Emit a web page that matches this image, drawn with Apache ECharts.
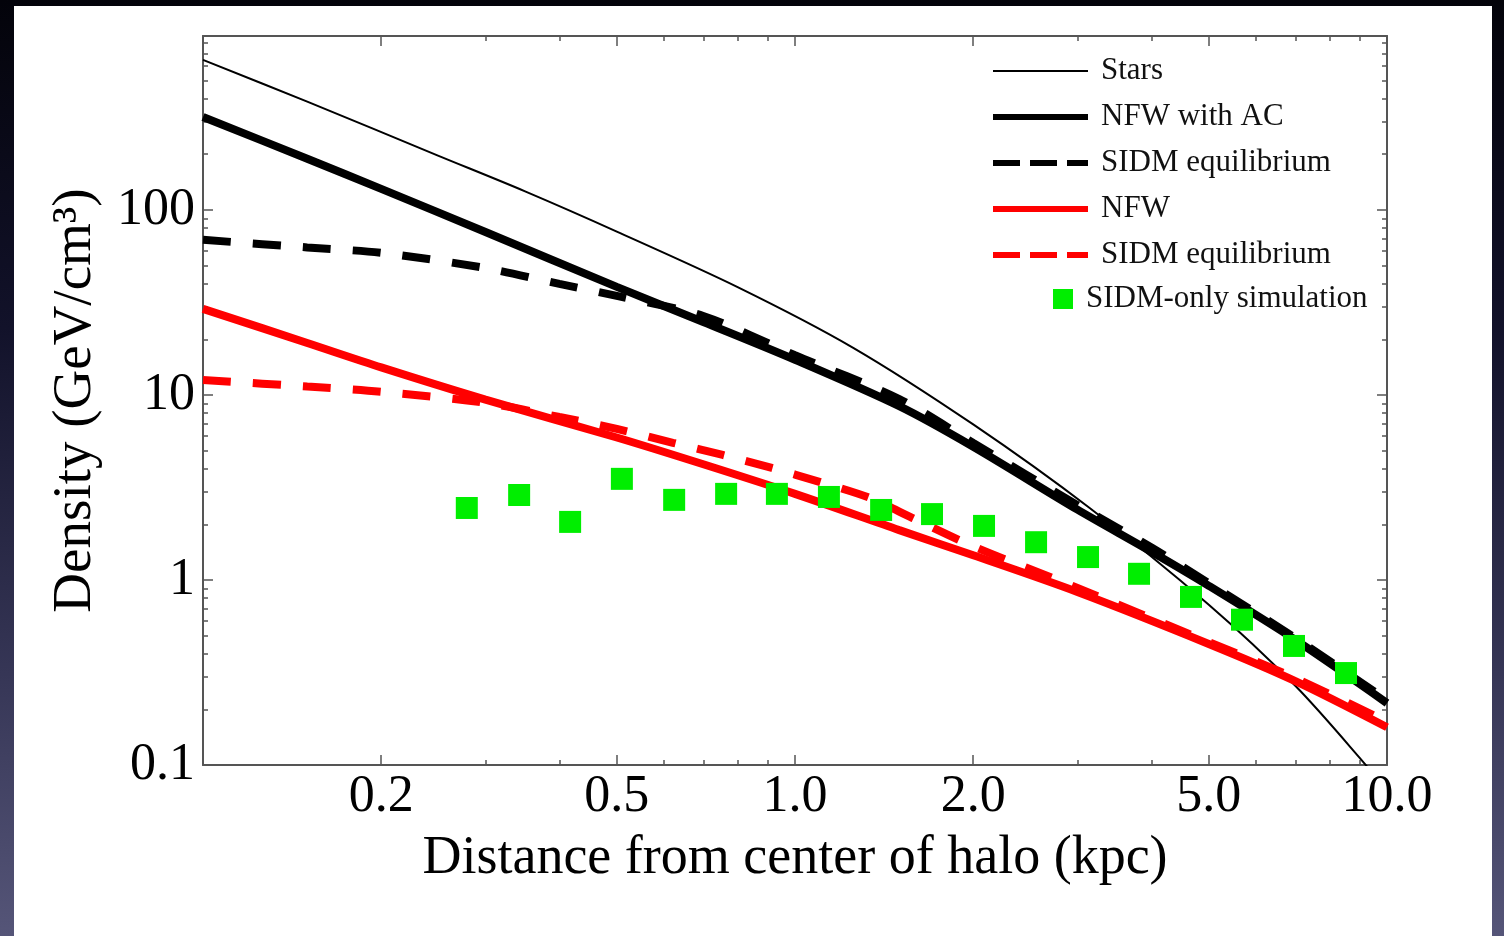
<!DOCTYPE html>
<html>
<head>
<meta charset="utf-8">
<script src="https://cdn.jsdelivr.net/npm/echarts@6/dist/echarts.min.js"></script>
<style>
html,body{margin:0;padding:0;width:1504px;height:936px;overflow:hidden;
  background:linear-gradient(to bottom,#03030a 0%,#12122a 35%,#363656 72%,#555578 100%);}
#chart{position:absolute;left:14px;top:6px;width:1478px;height:930px;background:#ffffff;}
</style>
</head>
<body>
<div id="chart"></div>
<script>
// ---- data (r in kpc, density in GeV/cm^3) ----
const starsR   = [0.1,0.15,0.25,0.35,0.5,0.8,1.25,2,3.15,5,7,9,10];
const starsRho = [647,385,196,126,76.4,38.3,18.1,6.93,2.44,0.735,0.268,0.109,0.072];

const nfwAcR   = [0.1,0.15,0.2,0.3,0.5,0.7,1,1.5,2,3,4,5,7,10];
const nfwAcRho = [318,189,130,76,38.4,24.8,15.5,8.7,5.25,2.40,1.42,0.93,0.474,0.216];

const sidmAcR   = [0.1,0.15,0.2,0.3,0.4,0.5,0.7,1,1.5,2,3,4,5,7,10];
const sidmAcRho = [68.9,62.7,58.6,48.5,39.8,34.3,26.7,16.4,9.5,5.5,2.54,1.50,0.96,0.485,0.224];

const nfwR   = [0.1,0.15,0.2,0.3,0.5,0.7,1,1.5,2,3,5,7,10];
const nfwRho = [29.2,19.1,14.1,9.44,5.89,4.22,2.92,1.86,1.36,0.861,0.451,0.284,0.160];

const sidmR   = [0.1,0.15,0.2,0.3,0.4,0.5,0.622,0.755,0.914,1.10,1.34,1.58,2,3,5,7,10];
const sidmRho = [12.05,11.1,10.4,9.06,7.6,6.55,5.51,4.74,4.03,3.39,2.77,2.16,1.52,0.906,0.462,0.295,0.171];

const simR   = [0.279,0.342,0.417,0.510,0.625,0.765,0.932,1.141,1.398,1.704,2.086,2.554,3.126,3.812,4.666,5.690,6.965,8.526];
const simRho = [2.45,2.88,2.06,3.52,2.71,2.92,2.92,2.81,2.39,2.27,1.96,1.60,1.33,1.08,0.81,0.61,0.44,0.314];

// ---- ticks ----
const xMajor = [0.2,0.5,1,2,5,10];
const xMajorLabels = ['0.2','0.5','1.0','2.0','5.0','10.0'];
const xMinor = [0.3,0.4,0.6,0.7,0.8,0.9,3,4,6,7,8,9];
const yMajor = [0.1,1,10,100];
const yMajorLabels = ['0.1','1','10','100'];
const yMinor = [0.2,0.3,0.4,0.5,0.6,0.7,0.8,0.9,2,3,4,5,6,7,8,9,20,30,40,50,60,70,80,90,200,300,400,500,600,700,800];

const seriesNames = ['Stars','NFW with AC','SIDM equilibrium (AC)','NFW','SIDM equilibrium','SIDM-only simulation'];
const legendLabels = ['Stars','NFW with AC','SIDM equilibrium','NFW','SIDM equilibrium','SIDM-only simulation'];

// ---- helpers ----
const L = Math.log10;
const pts = (rs, vs) => rs.map((r, i) => [L(r), L(vs[i])]);
const FONT = 'Liberation Serif';
const AX = '#555555';
const X0 = -1, X1 = 1, Y0 = -1, Y1 = 2.94;
const findLabel = (vals, labels, v) => {
  for (let i = 0; i < vals.length; i++) if (Math.abs(L(vals[i]) - v) < 1e-6) return labels[i];
  return '';
};

function xAx(grid, pos, ticks, len, main, labels) {
  return {
    type: 'value', gridIndex: grid, position: pos, min: X0, max: X1,
    axisLine: {show: main, onZero: false, lineStyle: {color: AX, width: 2}},
    splitLine: {show: false},
    axisTick: {show: true, inside: true, length: len, customValues: ticks.map(L), lineStyle: {color: AX, width: 1.5}},
    axisLabel: labels ? {show: true, customValues: xMajor.map(L), margin: 6,
      formatter: v => findLabel(xMajor, xMajorLabels, v),
      fontFamily: FONT, fontSize: 52, color: '#000'} : {show: false}
  };
}
function yAx(grid, pos, ticks, len, main, labels) {
  return {
    type: 'value', gridIndex: grid, position: pos, min: Y0, max: Y1,
    axisLine: {show: main, onZero: false, lineStyle: {color: AX, width: 2}},
    splitLine: {show: false},
    axisTick: {show: true, inside: true, length: len, customValues: ticks.map(L), lineStyle: {color: AX, width: 1.5}},
    axisLabel: labels ? {show: true, customValues: yMajor.map(L), margin: 8,
      formatter: v => findLabel(yMajor, yMajorLabels, v),
      fontFamily: FONT, fontSize: 52, color: '#000'} : {show: false}
  };
}

const gridRect = {left: 189, right: 105, top: 30, bottom: 171};

const xAxes = [
  Object.assign(xAx(0, 'bottom', xMajor, 10, true, true), {
    name: 'Distance from center of halo (kpc)', nameLocation: 'middle', nameGap: 67,
    nameTextStyle: {fontFamily: FONT, fontSize: 54, color: '#000'}
  }),
  xAx(0, 'top', xMajor, 10, true, false),
  xAx(1, 'bottom', xMinor, 5, false, false),
  xAx(1, 'top', xMinor, 5, false, false)
];
const yAxes = [
  Object.assign(yAx(0, 'left', yMajor, 10, true, true), {
    name: 'Density (GeV/cm³)', nameLocation: 'middle', nameGap: 100,
    nameTextStyle: {fontFamily: FONT, fontSize: 55, color: '#000'}
  }),
  yAx(0, 'right', yMajor, 10, true, false),
  yAx(1, 'left', yMinor, 5, false, false),
  yAx(1, 'right', yMinor, 5, false, false)
];

function lineSeries(name, data, color, width, dash) {
  return {
    type: 'line', name: name, data: data, xAxisIndex: 0, yAxisIndex: 0,
    symbol: 'none', smooth: 0.3, clip: true,
    lineStyle: {color: color, width: width, type: dash || 'solid'},
    itemStyle: {color: color}
  };
}

const option = {
  animation: false,
  backgroundColor: 'transparent',
  grid: [Object.assign({}, gridRect), Object.assign({}, gridRect)],
  xAxis: xAxes,
  yAxis: yAxes,
  legend: [
    {
      orient: 'vertical', left: 976, top: 48, padding: 0,
      itemWidth: 95, itemHeight: 14, itemGap: 12,
      data: [
        {name: seriesNames[0], lineStyle: {width: 2}},
        {name: seriesNames[1], lineStyle: {width: 6}},
        {name: seriesNames[2], lineStyle: {width: 6, type: [27, 10]}},
        {name: seriesNames[3], lineStyle: {width: 6}},
        {name: seriesNames[4], lineStyle: {width: 6, type: [27, 10]}}
      ],
      itemStyle: {opacity: 0},
      formatter: n => legendLabels[seriesNames.indexOf(n)],
      textStyle: {fontFamily: FONT, fontSize: 31, color: '#111', lineHeight: 34, padding: [0, 0, 0, 8]}
    },
    {
      orient: 'vertical', left: 1039, top: 276, padding: 0,
      itemWidth: 20, itemHeight: 20,
      data: [{name: seriesNames[5], icon: 'rect', itemStyle: {opacity: 1}}],
      formatter: n => legendLabels[seriesNames.indexOf(n)],
      textStyle: {fontFamily: FONT, fontSize: 31, color: '#111', lineHeight: 34, padding: [0, 0, 0, 8]}
    }
  ],
  series: [
    lineSeries(seriesNames[0], pts(starsR, starsRho), '#000000', 2),
    lineSeries(seriesNames[1], pts(nfwAcR, nfwAcRho), '#000000', 8),
    lineSeries(seriesNames[2], pts(sidmAcR, sidmAcRho), '#000000', 8, [28, 22]),
    lineSeries(seriesNames[3], pts(nfwR, nfwRho), '#ff0000', 8),
    lineSeries(seriesNames[4], pts(sidmR, sidmRho), '#ff0000', 8, [28, 22]),
    {
      type: 'scatter', name: seriesNames[5], data: pts(simR, simRho),
      xAxisIndex: 0, yAxisIndex: 0, symbol: 'rect', symbolSize: 22,
      itemStyle: {color: '#00ee00', opacity: 1}, z: 5
    }
  ]
};

const chart = echarts.init(document.getElementById('chart'));
chart.setOption(option);
</script>
</body>
</html>
